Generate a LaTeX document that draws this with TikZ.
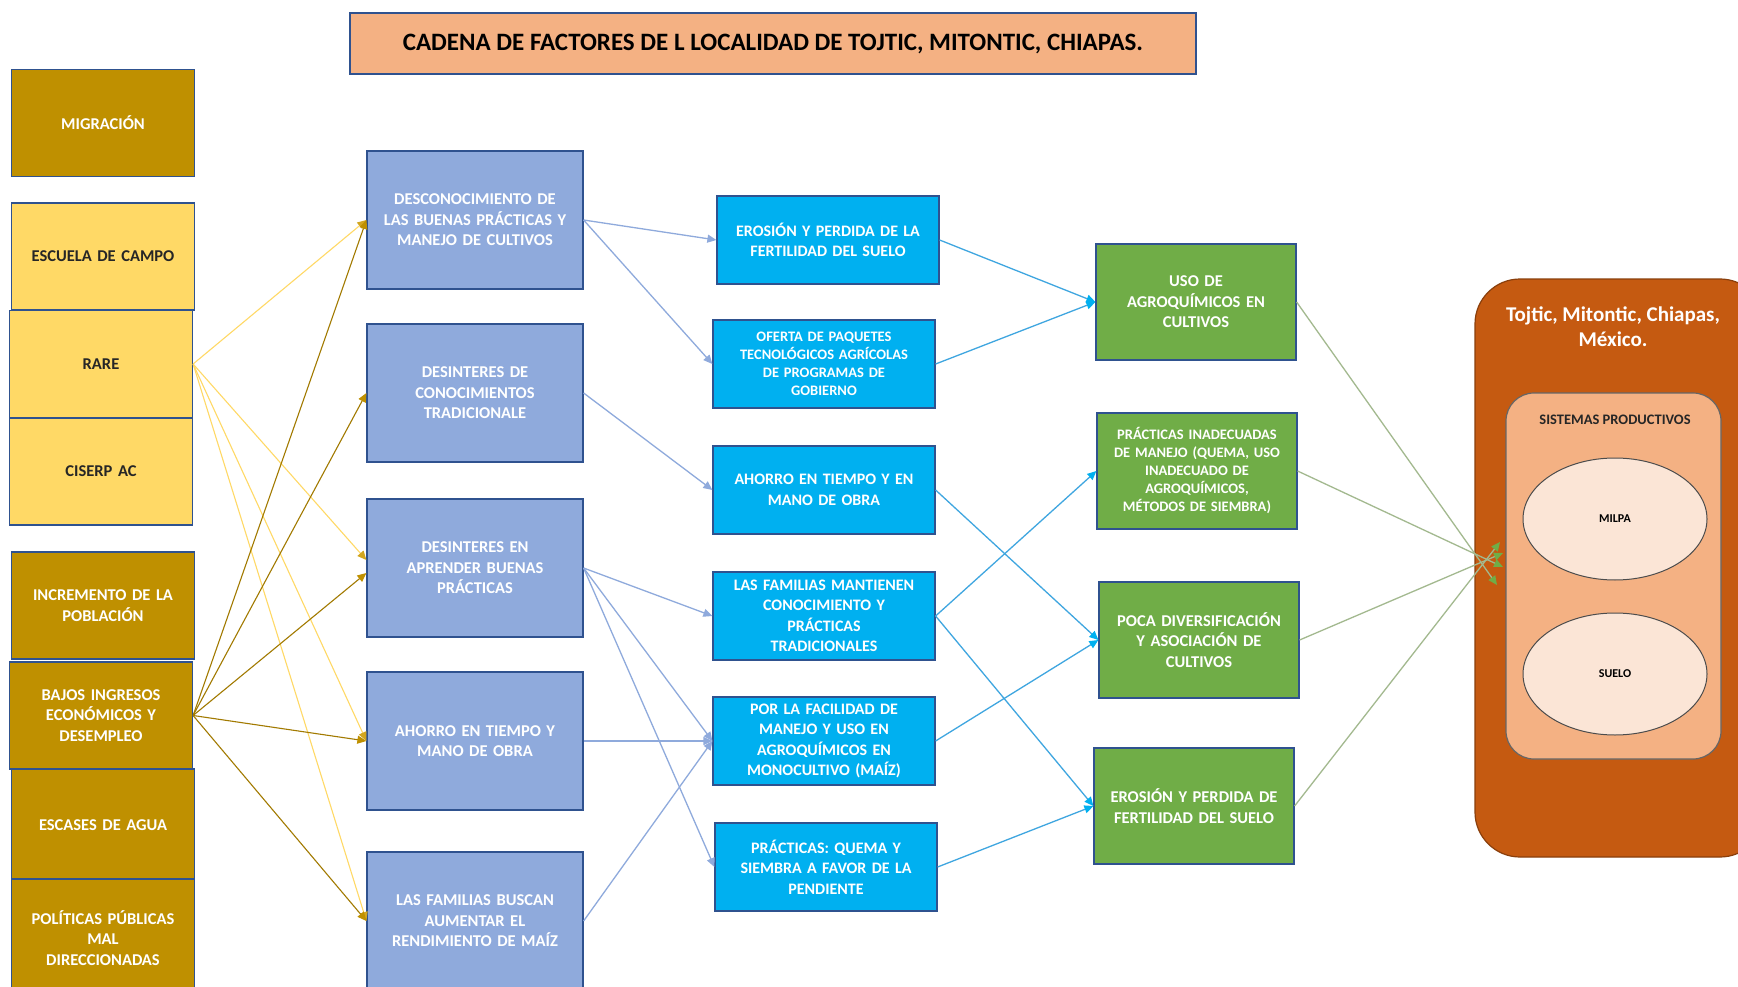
\documentclass[tikz,border=0pt]{standalone}
\usepackage{fontspec}
\setmainfont{Carlito}
\usetikzlibrary{arrows.meta,shapes.geometric}
\definecolor{oro}{HTML}{BF9000}
\definecolor{amarillo}{HTML}{FFD966}
\definecolor{azulgris}{HTML}{8FAADC}
\definecolor{celeste}{HTML}{00B0F0}
\definecolor{lineaceleste}{HTML}{3FA6E0}
\definecolor{verde}{HTML}{70AD47}
\definecolor{lineaverde}{HTML}{A3B98F}
\definecolor{naranja}{HTML}{C55A11}
\definecolor{salmon}{HTML}{F4B183}
\definecolor{crema}{HTML}{FBE5D6}
\definecolor{borde}{HTML}{2F528F}
\def\letra#1#2{\bfseries\fontsize{#1}{#2}\selectfont}

\tikzset{
  caja/.style={draw=borde, line width=1.2pt, align=center, inner sep=2pt},
  factor/.style={caja, fill=oro, text=white, minimum width=183, minimum height=107,
    text width=178pt, font=\letra{16.5}{20.5}},
  actor/.style={caja, fill=amarillo, text=black!85, minimum width=183, minimum height=107,
    text width=178pt, font=\letra{16.5}{20.5}},
  causa/.style={caja, fill=azulgris, text=white, minimum width=216, minimum height=138,
    text width=210pt, font=\letra{16.5}{20.5}},
  efecto/.style={caja, fill=celeste, text=white, minimum width=222, minimum height=88,
    text width=216pt, font=\letra{16}{20.5}},
  consec/.style={caja, fill=verde, text=white, minimum width=200, minimum height=116,
    text width=196pt, font=\letra{16.5}{20.5}},
  cultivo/.style={ellipse, draw=black!70, line width=1pt, fill=crema, minimum width=184,
    minimum height=122, font=\letra{12}{14}},
  flam/.style={amarillo, line width=1.1pt, -{Triangle[length=9pt,width=8pt,color=oro!70!amarillo]}},
  flor/.style={oro!85!black, line width=1.1pt, -{Triangle[length=9pt,width=8pt,color=oro]}},
  flaz/.style={azulgris, line width=1.3pt, -{Triangle[length=9pt,width=8pt]}},
  flce/.style={lineaceleste, line width=1.3pt, -{Triangle[length=9pt,width=8pt,color=celeste]}},
  flve/.style={lineaverde, line width=1.3pt, -{Triangle[length=9pt,width=8pt,color=verde]}}
}

\begin{document}
\begin{tikzpicture}[x=1pt,y=-1pt]
\useasboundingbox (0,0) rectangle (1738,987);
\clip (0,0) rectangle (1738,987);
\fill[white] (0,0) rectangle (1738,987);

\node[caja, fill=salmon, minimum width=846, minimum height=61, font=\letra{25}{28}] (titulo)
  at (773,43.5) {CADENA DE FACTORES DE L LOCALIDAD DE TOJTIC, MITONTIC, CHIAPAS.};

% factores y actores
\node[factor] (migr) at (103,123) {MIGRACIÓN};
\node[actor] (escuela) at (103,256.5) {ESCUELA DE CAMPO};
\node[actor] (rare) at (101,364) {RARE};
\node[actor] (ciserp) at (101,471.5) {CISERP AC};
\node[factor] (incr) at (103,605.5) {INCREMENTO DE LA\\POBLACIÓN};
\node[factor] (bajos) at (101,715.5) {BAJOS INGRESOS\\ECONÓMICOS Y\\DESEMPLEO};
\node[factor, minimum height=112] (escas) at (103,825) {ESCASES DE AGUA};
\node[factor, minimum height=118] (polit) at (103,938) {POLÍTICAS PÚBLICAS\\MAL\\DIRECCIONADAS};

% causas
\node[causa] (desc) at (475,220) {DESCONOCIMIENTO DE\\LAS BUENAS PRÁCTICAS Y\\MANEJO DE CULTIVOS};
\node[causa] (desint1) at (475,393) {DESINTERES DE\\CONOCIMIENTOS\\TRADICIONALE};
\node[causa] (desint2) at (475,568) {DESINTERES EN\\APRENDER BUENAS\\PRÁCTICAS};
\node[causa] (ahorro1) at (475,741) {AHORRO EN TIEMPO Y\\MANO DE OBRA};
\node[causa] (buscan) at (475,921) {LAS FAMILIAS BUSCAN\\AUMENTAR EL\\RENDIMIENTO DE MAÍZ};

% efectos
\node[efecto] (eros1) at (828,240) {EROSIÓN Y PERDIDA DE LA\\FERTILIDAD DEL SUELO};
\node[efecto, font=\letra{14.5}{18}] (oferta) at (824,364) {OFERTA DE PAQUETES\\TECNOLÓGICOS AGRÍCOLAS\\DE PROGRAMAS DE\\GOBIERNO};
\node[efecto] (ahorro2) at (824,490) {AHORRO EN TIEMPO Y EN\\MANO DE OBRA};
\node[efecto] (mantienen) at (824,616) {LAS FAMILIAS MANTIENEN\\CONOCIMIENTO Y\\PRÁCTICAS\\TRADICIONALES};
\node[efecto] (facil) at (824,741) {POR LA FACILIDAD DE\\MANEJO Y USO EN\\AGROQUÍMICOS EN\\MONOCULTIVO (MAÍZ)};
\node[efecto] (quema) at (826,867) {PRÁCTICAS: QUEMA Y\\SIEMBRA A FAVOR DE LA\\PENDIENTE};

% consecuencias
\node[consec] (uso) at (1196,302) {USO DE\\AGROQUÍMICOS EN\\CULTIVOS};
\node[consec, font=\letra{14.5}{18}] (inadec) at (1197,471) {PRÁCTICAS INADECUADAS\\DE MANEJO (QUEMA, USO\\INADECUADO DE\\AGROQUÍMICOS,\\MÉTODOS DE SIEMBRA)};
\node[consec] (poca) at (1199,640) {POCA DIVERSIFICACIÓN\\Y ASOCIACIÓN DE\\CULTIVOS};
\node[consec] (eros2) at (1194,806) {EROSIÓN Y PERDIDA DE\\FERTILIDAD DEL SUELO};

% localidad
\filldraw[fill=naranja, draw=naranja!70!black, line width=1.2pt, rounded corners=45] (1475,279) rectangle (1765,857);
\node[text=white, align=center, font=\letra{21}{25}] (lugar) at (1613,327) {Tojtic, Mitontic, Chiapas,\\México.};
\filldraw[fill=salmon, draw=black!60, line width=1.2pt, rounded corners=28] (1506,393) rectangle (1721,759);
\node[font=\letra{14.5}{16}, text=black!85] (sist) at (1615,420) {SISTEMAS PRODUCTIVOS};
\node[cultivo] (milpa) at (1615,519) {MILPA};
\node[cultivo] (suelo) at (1615,674) {SUELO};
\coordinate (g1) at (1497,585);
\coordinate (g2) at (1503,567);
\coordinate (g3) at (1503,553);
\coordinate (g4) at (1500,542);

% flechas
\draw[flam] (rare.east) -- (desc.west);
\draw[flam] (rare.east) -- ([yshift=8pt]desint2.west);
\draw[flam] (rare.east) -- (ahorro1.west);
\draw[flam] (rare.east) -- (buscan.west);
\draw[flor] (bajos.east) -- (desc.west);
\draw[flor] (bajos.east) -- (desint1.west);
\draw[flor] (bajos.east) -- ([yshift=-5pt]desint2.west);
\draw[flor] (bajos.east) -- (ahorro1.west);
\draw[flor] (bajos.east) -- (buscan.west);

\draw[flaz] (desc.east) -- (eros1.west);
\draw[flaz] (desc.east) -- (oferta.west);
\draw[flaz] (desint1.east) -- (ahorro2.west);
\draw[flaz] (desint2.east) -- (mantienen.west);
\draw[flaz] (desint2.east) -- (facil.west);
\draw[flaz] (desint2.east) -- (quema.west);
\draw[flaz] (ahorro1.east) -- (facil.west);
\draw[flaz] (buscan.east) -- (facil.west);

\draw[flce] (eros1.east) -- (uso.west);
\draw[flce] (oferta.east) -- (uso.west);
\draw[flce] (ahorro2.east) -- (poca.west);
\draw[flce] (mantienen.east) -- (inadec.west);
\draw[flce] (mantienen.east) -- (eros2.west);
\draw[flce] (facil.east) -- (poca.west);
\draw[flce] (quema.east) -- (eros2.west);

\draw[flve] (uso.east) -- (g1);
\draw[flve] (inadec.east) -- (g2);
\draw[flve] (poca.east) -- (g3);
\draw[flve] (eros2.east) -- (g4);
\end{tikzpicture}
\end{document}
